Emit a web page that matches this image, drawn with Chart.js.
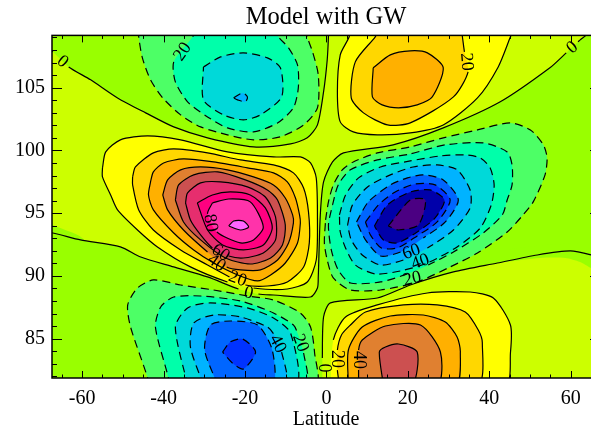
<!DOCTYPE html>
<html>
<head>
<meta charset="utf-8">
<title>Model with GW</title>
<script src="https://cdn.jsdelivr.net/npm/chart.js@4"></script>
<style>
  html, body { margin: 0; padding: 0; background: #fff; overflow: hidden; }
  canvas { display: block; }
</style>
</head>
<body>
<canvas id="grafico" width="601" height="430"></canvas>
<script>
// contours, [latitude, height]
const zeroMain = [[0.5,109.6],[0.5,109.05],[0.2,107.21],[-0.7,104.66],[-2.2,102.03],[-4.7,101],[-8.8,100.52],[-17.9,100.28],[-29.2,101],[-37.5,101.87],[-44.4,102.99],[-51.3,104.18],[-57.9,105.62],[-63.3,106.65],[-67.2,107.85],[-69,108.33],[-69,93.42],[-67.2,93.42],[-60.4,92.87],[-50.6,92.31],[-45.6,91.51],[-37.5,90.72],[-29.2,89.92],[-21.6,88.96],[-16.7,88.56],[-13,88.48],[-3.9,88.32],[-2.2,89.04],[-2,89.92],[-1.5,94.86],[-0.7,97.49],[1.5,99.08],[4.2,99.8],[16.4,100.44],[28.7,101.79],[42.7,103.87],[54.9,106.58],[58.9,107.77],[61.8,108.65],[64.8,109.6]];
const zeroLow = [[-1,81.3],[-1,81.87],[-1,83.46],[-0.7,86.73],[1,87.85],[12.5,88.24],[20.6,89.28],[31.2,90.32],[42,91.03],[51.8,91.67],[59.9,91.99],[65,91.67],[68.5,91.27],[68.5,81.3]];

// green shows past the zero line here
const greenLeft = [[-69,94.46],[-67.2,94.06],[-61.1,93.27],[-59.1,92.71],[-69,92.71]];
const greenRight = [[43.9,91.11],[52.5,91.43],[58.7,91.43],[62.3,91.11],[65,90.63],[68.5,90.08],[68.5,92.47],[43.9,92.07]];

const leftPos10 = [[-55,98.61],[-54.2,99.88],[-50.6,100.84],[-43.9,101.16],[-35.8,100.84],[-24.3,99.88],[-13,99.48],[-6.4,99.48],[-3.9,99],[-2.5,97.81],[-2.2,94.46],[-2.5,91.27],[-4.7,89.52],[-9.6,88.96],[-17.9,89.04],[-24.3,89.52],[-33.4,90.72],[-41.5,92.31],[-46.4,93.66],[-51.3,95.26],[-53,96.45],[-55,97.89]];
const leftPos20 = [[-47.6,97.89],[-46.9,98.68],[-42.5,99.8],[-37.5,100.12],[-29.2,99.8],[-21.1,99.24],[-13,98.84],[-8.1,98.21],[-5.6,97.01],[-4.4,95.1],[-4.2,92.63],[-5.6,90.71],[-9.6,89.52],[-14.5,89.2],[-19.9,89.28],[-23.8,89.92],[-29.2,90.87],[-35.8,92.07],[-42.5,93.66],[-46.1,95.26],[-47.6,97.25]];
const leftPos30 = [[-43.2,97.49],[-42.5,98.29],[-40,99],[-35.1,99.32],[-27.7,99.08],[-19.4,98.61],[-13,98.21],[-9.6,97.49],[-7.6,96.21],[-6.6,94.86],[-6.4,94.22],[-7.1,92.63],[-10.1,91.03],[-13.7,90.08],[-16.9,89.6],[-21.8,90.08],[-27.7,91.03],[-32.6,92.07],[-37.5,93.42],[-42.5,95.26],[-43.7,96.45]];
const leftPos40 = [[-40.2,96.45],[-39,97.65],[-35.8,98.45],[-30.9,98.68],[-24.3,98.45],[-17.9,97.89],[-13,97.25],[-10.1,96.21],[-8.3,94.86],[-8.1,94.22],[-9.3,92.63],[-12,91.27],[-16.2,90.48],[-21.1,90.48],[-24.5,90.71],[-29.2,91.91],[-35.1,93.66],[-39,95.26]];
const leftPos50 = [[-37.1,96.05],[-36.3,97.25],[-32.6,98.05],[-26.7,98.29],[-19.9,97.65],[-14.5,96.85],[-12,96.05],[-10.1,94.06],[-10.8,92.47],[-13.7,91.43],[-18.7,90.95],[-24.8,91.43],[-30.9,92.87],[-35.1,94.3]];
const leftPos60 = [[-34.6,95.82],[-34.1,96.61],[-30.9,97.41],[-26,97.49],[-19.4,97.09],[-15,96.29],[-12.5,94.7],[-12.5,92.87],[-15.5,91.83],[-20.4,91.43],[-24,91.59],[-28,92.23],[-30.9,93.27],[-33.4,94.46]];
const leftPos70 = [[-31.7,95.82],[-28,96.45],[-23.6,96.69],[-18.7,96.45],[-15,95.42],[-13.3,93.82],[-15.5,92.47],[-20.4,92.07],[-25.5,92.47],[-29.2,93.66]];
const leftPos80 = [[-28,95.82],[-24,96.13],[-18.7,95.9],[-15.5,93.9],[-17.9,92.87],[-21.1,92.63],[-26.9,93.5],[-29.2,94.94]];
const leftPos90 = [[-24,93.98],[-22.8,94.38],[-20.4,94.38],[-19.1,93.9],[-21.1,93.66]];

const topLeftNeg10 = [[-46.1,109.6],[-46.1,109.05],[-45.2,107.37],[-43.2,105.62],[-40.2,104.18],[-35.8,102.83],[-30.9,101.87],[-24.3,101.24],[-17.9,100.84],[-11.3,101.08],[-5.6,102.03],[-2.2,103.39],[-2,106.02],[-3.4,107.85],[-4.7,109.05],[-4.7,109.6]];
const topLeftNeg20 = [[-31.7,109.6],[-33.4,108.81],[-37.5,107.05],[-37.1,105.46],[-34.1,103.87],[-29.2,102.67],[-24.3,101.79],[-17.9,101.47],[-12,102.19],[-8.1,103.39],[-6.9,104.98],[-7.1,106.81],[-9.3,108.17],[-11.8,109.05],[-12.3,109.6]];
const topLeftNeg30 = [[-30.2,106.65],[-26,107.45],[-20.4,107.77],[-14.5,107.37],[-11.3,106.58],[-11,104.26],[-16.2,102.83],[-20.4,102.43],[-25.3,102.83],[-30.2,104.02]];
const topLeftNeg40 = [[-22.8,104.18],[-20.6,104.58],[-19.4,104.26],[-19.9,103.87],[-21.8,104.02]];

const topRightPos10 = [[5.6,109.6],[5.6,109.05],[3.4,107.61],[2.7,104.66],[3.4,102.27],[6.6,101.47],[12.5,101.24],[20.6,101.39],[28.7,102.03],[37.1,104.18],[42.2,106.65],[45.2,109.05],[45.9,109.6]];
const topRightPos20 = [[12.8,109.6],[12,109.05],[7.1,107.05],[6.1,104.18],[9.1,102.99],[15,102.03],[20.6,102.19],[31.2,104.26],[34.8,106.26],[33.9,107.85],[33.4,109.05],[33.1,109.6]];
const topRightPos30 = [[11.5,106.58],[15.7,107.61],[20.6,107.93],[24.8,107.77],[28.7,106.58],[26,104.26],[22.3,103.63],[17.7,103.39],[13.7,103.63],[11.3,104.26]];

const rightNeg10 = [[-0.2,94.46],[0.5,95.9],[1.7,97.25],[3.9,98.45],[6.6,99.08],[12.5,99.8],[20.6,100.28],[28.7,101],[37.1,101.63],[45.2,102.19],[50.1,101.63],[53.3,100.44],[54.2,99.4],[53.7,98.05],[50.8,95.9],[48.3,94.86],[44.4,93.5],[37.1,91.83],[30.4,90.72],[22.3,89.52],[13.3,88.88],[5.9,88.88],[1.7,89.84],[0.2,91.27],[-0.5,92.63]];
const rightNeg20 = [[1.5,95.66],[2.9,97.25],[5.9,98.45],[12.5,99.24],[20.6,99.72],[29.2,100.44],[38.5,100.6],[44.4,99.88],[45.6,98.84],[45.6,97.25],[44.4,96.05],[43.2,94.86],[38.5,93.42],[31.2,91.91],[25,90.87],[19.9,90.16],[13.3,89.52],[5.9,89.44],[2.9,90.48],[1.2,92.07],[0.5,94.06]];
const rightNeg30 = [[3.2,94.86],[4.7,96.45],[7.9,97.81],[13.3,98.68],[20.6,99.16],[28,99.56],[34.1,99.64],[37.8,99.4],[40.2,98.61],[41.2,97.25],[40.5,95.66],[37.8,93.82],[32.1,92.31],[24.8,91.03],[18.2,90.4],[12,90.16],[7.1,90.87],[4.7,92.23],[3.4,93.5]];
const rightNeg40 = [[5.2,94.06],[6.4,95.66],[10.1,97.09],[15.7,98.05],[21.3,98.68],[27.2,98.84],[32.1,98.45],[35.3,96.85],[35.3,95.42],[31.2,93.66],[24.8,92.23],[18.9,91.27],[13.3,90.87],[8.8,91.67],[6.1,92.87]];
const rightNeg50 = [[7.4,94.3],[10.3,95.9],[15.7,97.25],[19.9,97.81],[23.8,98.05],[28.7,97.65],[32.4,96.05],[29.2,94.3],[23.8,93.03],[18.2,91.91],[13.3,91.59],[9.6,92.87]];
const rightNeg60 = [[9.6,94.3],[12.8,95.66],[16.9,96.69],[21.8,97.33],[26.7,97.25],[30.4,96.05],[27.2,94.3],[22.3,93.19],[17.4,92.23],[13.5,92.23],[10.8,93.27]];
const rightNeg70 = [[11.8,93.98],[15,95.66],[20.6,96.69],[25.5,96.85],[29,96.05],[26.7,94.62],[22.3,93.5],[17.4,92.63],[14,92.87]];
const rightNeg80 = [[15.2,93.98],[20.6,96.05],[24.3,96.05],[22.6,94.06],[17.7,93.66]];

const lowLeftNeg10 = [[-43.9,81.31],[-43.9,81.87],[-48.1,85.93],[-48.8,87.69],[-46.4,89.04],[-42.5,89.68],[-35.8,89.28],[-27.7,88.88],[-19.4,88.41],[-13,88.08],[-6.4,87.05],[-3.9,85.93],[-2.9,83.86],[-2.7,81.31]];
const lowLeftNeg20 = [[-38.8,81.31],[-38.8,81.87],[-42,85.93],[-40.7,87.53],[-37.5,88.32],[-30.9,88.4],[-21.1,88],[-13,87.05],[-8.1,86.09],[-7.1,85.45],[-5.6,83.86],[-5.2,81.31]];
const lowLeftNeg30 = [[-34.1,81.31],[-37.1,85.93],[-34.1,87.45],[-28.5,87.85],[-19.4,87.45],[-13,86.65],[-8.8,85.45],[-7.6,81.31]];
const lowLeftNeg40 = [[-30.2,81.31],[-33.4,84.34],[-32.6,86.25],[-27.7,86.89],[-21.1,86.73],[-14.5,85.93],[-12.8,85.3],[-11,83.94],[-10.1,81.31]];
const lowLeftNeg50 = [[-26.7,81.31],[-29.9,84.1],[-28.5,86.09],[-23.6,86.41],[-16.9,86.09],[-13.3,84.1],[-13.3,81.31]];
const lowLeftNeg60 = [[-25.5,83.94],[-23.6,84.74],[-20.6,84.98],[-17.4,83.94],[-20.4,82.59],[-23.1,83.06]];

const lowRightPos10 = [[1,81.31],[1.7,84.9],[4.7,86.73],[12.5,87.69],[24.8,88.64],[35.3,88.72],[41,88.24],[45.2,86.09],[45.2,83.86],[43.9,81.31]];
const lowRightPos20 = [[3.2,81.31],[2.7,82.5],[2.7,84.1],[3.7,85.3],[5.9,86.09],[9.6,87.13],[18.9,87.69],[27.2,87.69],[34.1,87.13],[37.3,85.69],[38.3,84.66],[37.1,81.31]];
const lowRightPos30 = [[5.4,81.31],[5.4,84.1],[8.8,85.93],[15.7,86.81],[23.8,86.89],[29.2,86.33],[32.1,85.14],[32.9,83.94],[31.7,81.31]];
const lowRightPos40 = [[7.9,81.31],[7.9,82.5],[7.9,84.1],[8.8,84.9],[14.5,86.01],[23.1,86.09],[28,83.94],[27.2,81.31]];
const lowRightPos50 = [[14,81.31],[13,83.94],[14.5,84.34],[17.7,84.58],[22.3,83.94],[21.1,81.31]];

// contour labels
const labelTexts = ["0","20","20","0","80","60","40","20","0","40","20","0","20","40","60","40","20"];
const labelLats = [-64.8,-35.3,34.4,60.4,-28.5,-26,-27,-21.8,-19.1,-12,-6.4,-0.7,2.5,7.9,20.9,23.1,21.1];
const labelHeights = [107.05,107.85,107.05,108.17,94.22,91.83,91.03,89.76,88.64,84.58,84.66,82.67,83.38,83.3,91.91,91.11,89.76];
const labelAngles = [40,-55,85,-40,80,35,35,20,12,62,70,90,90,90,-20,-20,-12];

const xTickValues = [-60,-40,-20,0,20,40,60];
const yTickValues = [85,90,95,100,105];

const bandColors = {
  neg0: "#99ff00",
  pos0: "#ccff00", pos10: "#ffff00", pos20: "#ffd700", pos30: "#ffb000", pos40: "#e08030",
  pos50: "#cc5050", pos60: "#e62e6e", pos70: "#ff0080", pos80: "#ff33aa", pos90: "#ff66ff",
  neg10: "#4dff66", neg20: "#00ffaa", neg30: "#00d9d9", neg40: "#00b3ff", neg50: "#0066ff",
  neg60: "#0033ff", neg70: "#0000aa", neg80: "#4b0082"
};

// painted in this order, outer contours first
const contours = [
  [zeroMain,"pos0"],[zeroLow,"pos0"],
  [leftPos10,"pos10"],[leftPos20,"pos20"],[leftPos30,"pos30"],[leftPos40,"pos40"],[leftPos50,"pos50"],[leftPos60,"pos60"],[leftPos70,"pos70"],[leftPos80,"pos80"],[leftPos90,"pos90"],
  [topLeftNeg10,"neg10"],[topLeftNeg20,"neg20"],[topLeftNeg30,"neg30"],[topLeftNeg40,"neg40"],
  [topRightPos10,"pos10"],[topRightPos20,"pos20"],[topRightPos30,"pos30"],
  [rightNeg10,"neg10"],[rightNeg20,"neg20"],[rightNeg30,"neg30"],[rightNeg40,"neg40"],[rightNeg50,"neg50"],[rightNeg60,"neg60"],[rightNeg70,"neg70"],[rightNeg80,"neg80"],
  [lowLeftNeg10,"neg10"],[lowLeftNeg20,"neg20"],[lowLeftNeg30,"neg30"],[lowLeftNeg40,"neg40"],[lowLeftNeg50,"neg50"],[lowLeftNeg60,"neg60"],
  [lowRightPos10,"pos10"],[lowRightPos20,"pos20"],[lowRightPos30,"pos30"],[lowRightPos40,"pos40"],[lowRightPos50,"pos50"]
];

const SERIF = "'Liberation Serif', serif";

// the line stops where a contour label sits on it
function cutAtLabel(ctx) {
  const sx = ctx.chart.scales.x, sy = ctx.chart.scales.y;
  const mx = (ctx.p0.x + ctx.p1.x) / 2, my = (ctx.p0.y + ctx.p1.y) / 2;
  for (let i = 0; i < labelTexts.length; i++) {
    const dx = sx.getPixelForValue(labelLats[i]) - mx;
    const dy = sy.getPixelForValue(labelHeights[i]) - my;
    if (dx * dx + dy * dy < 64) return "transparent";
  }
  return "#000";
}

const toPoints = pts => pts.concat([pts[0]]).map(([x, y]) => ({ x, y }));

const datasets = [];
contours.forEach(([pts, band], i) => {
  const base = { data: toPoints(pts), showLine: true, pointRadius: 0, tension: 0.25, capBezierPoints: false };
  datasets.push({ ...base, order: 1000 - 2 * i, fill: "shape", backgroundColor: bandColors[band], borderWidth: 0 });
  datasets.push({
    ...base, order: i < 2 ? 997 : 999 - 2 * i, fill: false, borderColor: "#000", borderWidth: 1.2,
    borderDash: band.startsWith("neg") ? [8, 5] : [],
    segment: { borderColor: cutAtLabel }
  });
});
[greenLeft, greenRight].forEach(pts => {
  datasets.push({ data: toPoints(pts), showLine: true, pointRadius: 0, tension: 0.25, capBezierPoints: false,
    order: 997.5, fill: "shape", backgroundColor: bandColors.neg0, borderWidth: 0 });
});

// background, inward ticks, frame and contour labels
const idlFrame = {
  id: "idlFrame",
  beforeDatasetsDraw(chart) {
    const { ctx, chartArea: a } = chart;
    ctx.save();
    ctx.fillStyle = bandColors.neg0;
    ctx.fillRect(a.left, a.top, a.right - a.left, a.bottom - a.top);
    ctx.restore();
  },
  afterDatasetsDraw(chart) {
    const { ctx, chartArea: a, scales } = chart;
    ctx.save();
    ctx.strokeStyle = "#000";
    ctx.lineWidth = 1;
    ctx.beginPath();
    for (let v = -65; v <= 65; v += 5) {
      const px = Math.round(scales.x.getPixelForValue(v)) + 0.5;
      const len = v % 20 === 0 ? 7 : 3.5;
      ctx.moveTo(px, a.bottom); ctx.lineTo(px, a.bottom - len);
      ctx.moveTo(px, a.top); ctx.lineTo(px, a.top + len);
    }
    for (let v = 82; v <= 109; v++) {
      const py = Math.round(scales.y.getPixelForValue(v)) + 0.5;
      const len = v % 5 === 0 ? 10 : 5;
      ctx.moveTo(a.left, py); ctx.lineTo(a.left + len, py);
      ctx.moveTo(a.right, py); ctx.lineTo(a.right - len, py);
    }
    ctx.stroke();
    ctx.lineWidth = 1.5;
    ctx.strokeRect(a.left, a.top, a.right - a.left, a.bottom - a.top);

    ctx.fillStyle = "#000";
    ctx.font = "18px " + SERIF;
    ctx.textAlign = "center";
    ctx.textBaseline = "middle";
    labelTexts.forEach((t, i) => {
      ctx.save();
      ctx.translate(scales.x.getPixelForValue(labelLats[i]), scales.y.getPixelForValue(labelHeights[i]));
      ctx.rotate(labelAngles[i] * Math.PI / 180);
      ctx.fillText(t, 0, 0);
      ctx.restore();
    });
    ctx.restore();
  }
};

new Chart(document.getElementById("grafico"), {
  type: "scatter",
  data: { datasets },
  plugins: [idlFrame],
  options: {
    responsive: false,
    animation: false,
    events: [],
    layout: { padding: { right: 1 } },
    plugins: {
      legend: { display: false },
      tooltip: { enabled: false },
      title: {
        display: true, text: "Model with GW", color: "#000", fullSize: false,
        font: { family: SERIF, size: 24.5, weight: "normal" },
        padding: { top: 3, bottom: 3 }
      }
    },
    scales: {
      x: {
        type: "linear", min: -67.4, max: 67.2,
        afterBuildTicks: s => { s.ticks = xTickValues.map(value => ({ value })); },
        afterFit: s => { s.height = 52; },
        grid: { display: false, drawTicks: false },
        border: { display: false },
        ticks: { color: "#000", padding: 9, maxRotation: 0, callback: v => String(v), font: { family: SERIF, size: 20 } },
        title: { display: true, text: "Latitude", color: "#000", padding: { top: 0, bottom: 0 }, font: { family: SERIF, size: 20, lineHeight: 1 } }
      },
      y: {
        type: "linear", min: 81.87, max: 109.16,
        afterBuildTicks: s => { s.ticks = yTickValues.map(value => ({ value })); },
        afterFit: s => { s.width = 52; },
        grid: { display: false, drawTicks: false },
        border: { display: false },
        ticks: { color: "#000", padding: 7, callback: v => String(v), font: { family: SERIF, size: 20 } }
      }
    }
  }
});
</script>
</body>
</html>
